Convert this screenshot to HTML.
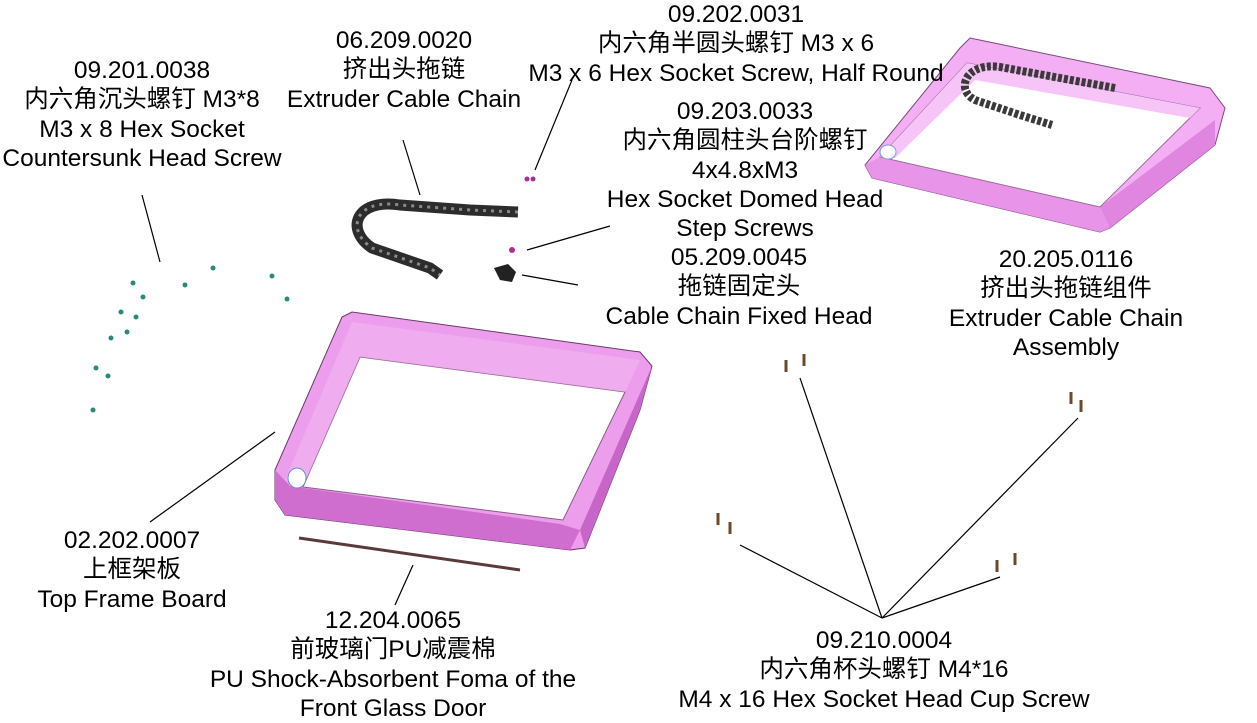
<!DOCTYPE html>
<html><head><meta charset="utf-8"><style>
body{margin:0;width:1257px;height:714px;background:#fff;overflow:hidden;position:relative;font-family:"Liberation Sans","Noto Sans CJK SC",sans-serif;}
.t{position:absolute;font-size:24.5px;line-height:29.3px;text-align:center;color:#000;white-space:nowrap;transform:translateX(-50%);}
svg{position:absolute;left:0;top:0}
</style></head><body>
<svg width="1257" height="714" viewBox="0 0 1257 714">
<g stroke="#000" stroke-width="1.2" fill="none">
<line x1="142" y1="195" x2="160" y2="262"/>
<line x1="403" y1="140" x2="420" y2="195"/>
<line x1="572" y1="80" x2="535" y2="170"/>
<line x1="610" y1="226" x2="527" y2="250"/>
<line x1="578" y1="285" x2="522" y2="275"/>
<line x1="275" y1="432" x2="150" y2="522"/>
<line x1="413" y1="565" x2="395" y2="605"/>
<line x1="882" y1="618" x2="800" y2="378"/>
<line x1="882" y1="618" x2="1078" y2="418"/>
<line x1="882" y1="618" x2="740" y2="545"/>
<line x1="882" y1="618" x2="1000" y2="577"/>
</g>
<polygon points="342,317 352,312 640,352 652,366 640,410 585,548 570,550 285,515 275,500 275,470" fill="#ec9eec" stroke="#6a3a6a" stroke-width="1"/>
<polygon points="275,470 290,486 560,524 580,530 570,550 285,515 275,500" fill="#d06ecf"/>
<polygon points="580,530 652,366 640,410 585,548" fill="#c865c8"/>
<polygon points="360,357 625,392 563,520 303,487" fill="#fff" stroke="#8a5a8a" stroke-width="1"/>
<polygon points="352,322 640,360 625,392 360,357 303,487 285,480" fill="#f2b8f2" opacity="0.6"/>
<ellipse cx="297" cy="478" rx="9" ry="10" fill="#fff" stroke="#5b8fd0" stroke-width="1"/>
<line x1="299" y1="538" x2="520" y2="570" stroke="#5a3a3a" stroke-width="3"/>
<polygon points="970,38 1210,88 1225,108 1215,145 1110,228 1100,232 872,178 865,165 960,48" fill="#f4aef4" stroke="#7a4a7a" stroke-width="1"/>
<polygon points="865,165 880,157 1100,207 1110,228 1100,232 872,178" fill="#e894e8"/>
<polygon points="1100,207 1215,120 1215,145 1110,228" fill="#e085e0"/>
<polygon points="967,63 1200,108 1100,207 880,157" fill="#fff" stroke="#9a6a9a" stroke-width="1"/>
<polygon points="967,63 1200,108 1190,118 975,80 895,158 880,157" fill="#f6c4f6"/>
<ellipse cx="888" cy="152" rx="8" ry="7" fill="#fff" stroke="#7aa0d0"/>
<path d="M1115,88 L1060,78 1000,67 C965,62 955,90 975,100 L1020,115 1052,125" fill="none" stroke="#3a3a3a" stroke-width="8" stroke-dasharray="4 2"/>
<path d="M518,212 L470,210 400,205 C355,198 345,230 372,248 L430,268 L440,275" fill="none" stroke="#2c2c2c" stroke-width="11"/>
<path d="M518,212 L470,210 400,205 C355,198 345,230 372,248 L430,268 L440,275" fill="none" stroke="#8a8a8a" stroke-width="3" stroke-dasharray="3 5"/>
<circle cx="527" cy="179" r="2.5" fill="#a0309a"/><circle cx="533" cy="179" r="2.5" fill="#a0309a"/>
<circle cx="512" cy="250" r="3" fill="#b03090"/>
<path d="M494,268 L508,264 516,272 512,282 500,280 Z" fill="#222"/>
<g fill="#2a8a7a">
<circle cx="133" cy="283" r="2.5"/><circle cx="143" cy="297" r="2.5"/><circle cx="185" cy="285" r="2.5"/><circle cx="213" cy="268" r="2.5"/><circle cx="272" cy="276" r="2.5"/><circle cx="287" cy="299" r="2.5"/><circle cx="121" cy="312" r="2.5"/><circle cx="136" cy="317" r="2.5"/><circle cx="111" cy="338" r="2.5"/><circle cx="127" cy="332" r="2.5"/><circle cx="96" cy="368" r="2.5"/><circle cx="108" cy="376" r="2.5"/><circle cx="93" cy="410" r="2.5"/>
</g>
<g stroke="#6a4a2a" stroke-width="3">
<line x1="786" y1="360" x2="786" y2="372"/><line x1="804" y1="354" x2="804" y2="366"/>
<line x1="1071" y1="392" x2="1071" y2="404"/><line x1="1081" y1="400" x2="1081" y2="412"/>
<line x1="718" y1="513" x2="718" y2="525"/><line x1="730" y1="522" x2="730" y2="534"/>
<line x1="997" y1="560" x2="997" y2="572"/><line x1="1015" y1="553" x2="1015" y2="565"/>
</g>
</svg>
<div class="t" style="left:142px;top:56px">09.201.0038<br>内六角沉头螺钉 M3*8<br>M3 x 8 Hex Socket<br>Countersunk Head Screw</div>
<div class="t" style="left:404px;top:26px">06.209.0020<br>挤出头拖链<br>Extruder Cable Chain</div>
<div class="t" style="left:736px;top:0px">09.202.0031<br>内六角半圆头螺钉 M3 x 6<br>M3 x 6 Hex Socket Screw, Half Round</div>
<div class="t" style="left:745px;top:97px">09.203.0033<br>内六角圆柱头台阶螺钉<br>4x4.8xM3<br>Hex Socket Domed Head<br>Step Screws</div>
<div class="t" style="left:739px;top:243px">05.209.0045<br>拖链固定头<br>Cable Chain Fixed Head</div>
<div class="t" style="left:1066px;top:245px">20.205.0116<br>挤出头拖链组件<br>Extruder Cable Chain<br>Assembly</div>
<div class="t" style="left:132px;top:526px">02.202.0007<br>上框架板<br>Top Frame Board</div>
<div class="t" style="left:393px;top:606px">12.204.0065<br>前玻璃门PU减震棉<br>PU Shock-Absorbent Foma of the<br>Front Glass Door</div>
<div class="t" style="left:884px;top:626px">09.210.0004<br>内六角杯头螺钉 M4*16<br>M4 x 16 Hex Socket Head Cup Screw</div>
</body></html>
